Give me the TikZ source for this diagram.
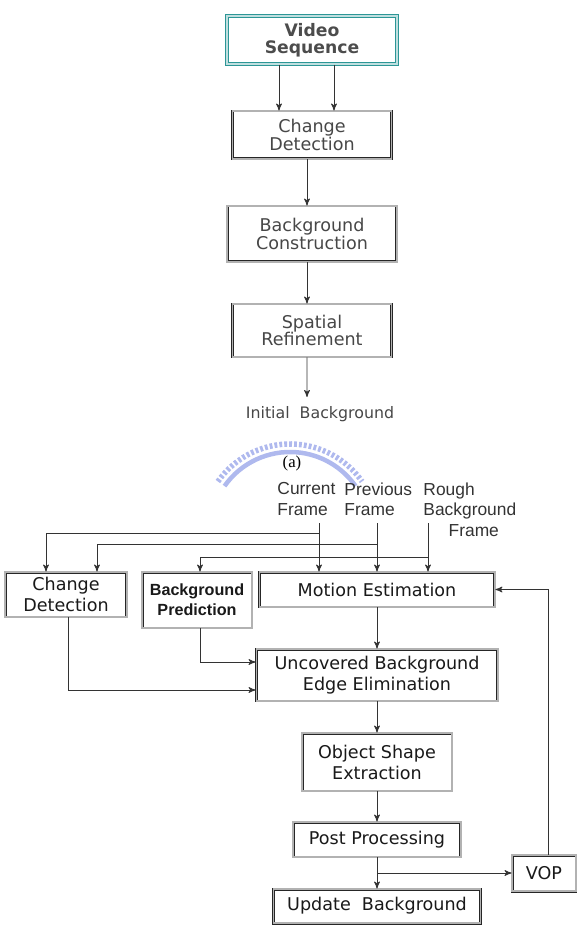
\documentclass[tikz,border=0pt]{standalone}
\usepackage{fontspec}
\setmainfont{DejaVu Sans}
\newfontfamily\arialfont{Liberation Sans}
\newfontfamily\timesfont{Liberation Serif}
\usetikzlibrary{arrows}
\definecolor{tealbox}{RGB}{45,150,150}
\definecolor{wmblue}{RGB}{175,185,238}
\tikzset{
  blk/.style = {rectangle, draw=black!85, double=black!30, double distance=0.6pt,
    line width=0.55pt, align=center, inner sep=0pt},
  blk_up/.style = {blk, text=black!72, font=\fontsize{10}{9.8}\selectfont},% upper chart
  blk_lo/.style = {blk, text=black!90, font=\fontsize{10}{12}\selectfont},% lower chart
  blk_src/.style = {blk, draw=tealbox, double=tealbox!30, double distance=0.9pt,
    line width=0.8pt, text=black!70,
    font=\fontsize{9.8}{9.8}\selectfont\bfseries},% input block
  lbl/.style = {inner sep=0pt, align=left, anchor=north west,
    font=\arialfont\fontsize{9.9}{11.7}\selectfont}% frame labels
}

\begin{document}
\begin{tikzpicture}[x=0.02cm, y=-0.02cm, ->, >=stealth', line width=0.5pt, color=black!80]
\useasboundingbox (0,0) rectangle (577,952);

% (a) initial background
\node [blk_src, minimum width=3.4cm, minimum height=0.96cm] (vidseq) at (312,40) {Video\\Sequence};
\node [blk_up, minimum width=3.18cm, minimum height=0.96cm] (chgdet) at (312,135) {Change\\Detection};
\node [blk_up, minimum width=3.4cm, minimum height=1.12cm] (bgcons) at (312,234) {Background\\Construction};
\node [blk_up, minimum width=3.18cm, minimum height=1.06cm] (spref) at (312,330.5) {Spatial\\Refinement};
\node [inner sep=0pt, text=black!72, font=\fontsize{9}{9}\selectfont] (initbg) at (320,414) {Initial\ \ Background};
\coordinate (initin) at (307,397);

\draw ([xshift=-0.66cm]vidseq.south) -- ([xshift=-0.66cm]chgdet.north);
\draw ([xshift=0.44cm]vidseq.south) -- ([xshift=0.44cm]chgdet.north);
\draw ([xshift=-0.1cm]chgdet.south) -- ([xshift=-0.1cm]bgcons.north);
\draw ([xshift=-0.1cm]bgcons.south) -- ([xshift=-0.1cm]spref.north);
\draw ([xshift=-0.1cm]spref.south) -- (initin);

% watermark
\draw [-, draw=wmblue, line width=0.11cm, dash pattern=on 1.6pt off 1.2pt]
  (217.9,481.5) arc [start angle=215, end angle=325, radius=88];
\draw [-, draw=wmblue, line width=0.09cm]
  (224.5,486.1) arc [start angle=215, end angle=325, radius=80];
\node [inner sep=0pt, text=black, font=\timesfont\fontsize{9.5}{9.5}\selectfont] (cap) at (292,463) {(a)};

% (b) segmentation
\node [lbl] (curfr) at (277,482) {Current\\Frame};
\node [lbl] (prevfr) at (344,482) {Previous\\Frame};
\node [lbl] (roughfr) at (423,482) {Rough\\Background\\\hspace*{1.45em}Frame};
\coordinate (curin) at (319,523);
\coordinate (previn) at (377,523);
\coordinate (roughin) at (428,523);

\node [blk_lo, minimum width=2.44cm, minimum height=0.9cm] (cdet) at (66,594.5) {Change\\Detection};
\node [blk_lo, minimum width=2.2cm, minimum height=1.12cm,
  font=\arialfont\bfseries\fontsize{9.2}{11.5}\selectfont] (bpred) at (197,600) {Background\\Prediction};
\node [blk_lo, minimum width=4.72cm, minimum height=0.7cm] (motest) at (377,589.5) {Motion Estimation};
\node [blk_lo, minimum width=4.84cm, minimum height=1.04cm] (uncov) at (377,675) {Uncovered Background\\Edge Elimination};
\node [blk_lo, minimum width=3cm, minimum height=1.16cm] (objshp) at (377,762) {Object Shape\\Extraction};
\node [blk_lo, minimum width=3.36cm, minimum height=0.7cm] (postpr) at (377,839.5) {Post Processing};
\node [blk_lo, minimum width=4.14cm, minimum height=0.68cm] (updbg) at (377,906) {Update\ \ Background};
\node [blk_lo, minimum width=1.28cm, minimum height=0.72cm] (vop) at (544,873) {VOP};

\draw (curin) -- (curin |- motest.north);
\draw (previn) -- (previn |- motest.north);
\draw (roughin) -- (roughin |- motest.north);
\draw ([yshift=-0.2cm]curin) -| ([xshift=-0.4cm]cdet.north);
\draw ([yshift=-0.42cm]previn) -| ([xshift=0.62cm]cdet.north);
\draw ([yshift=-0.68cm]roughin) -| ([xshift=0.06cm]bpred.north);

\draw (motest) -- (uncov);
\draw ([xshift=0.06cm]bpred.south) |- ([yshift=0.26cm]uncov.west);
\draw ([xshift=0.04cm]cdet.south) |- ([yshift=-0.3cm]uncov.west);
\draw (uncov) -- (objshp);
\draw (objshp) -- (postpr);
\draw (postpr) -- (updbg);
\draw (postpr.south |- vop.west) -- (vop.west);
\draw ([xshift=0.08cm]vop.north) |- (motest.east);
\end{tikzpicture}
\end{document}
